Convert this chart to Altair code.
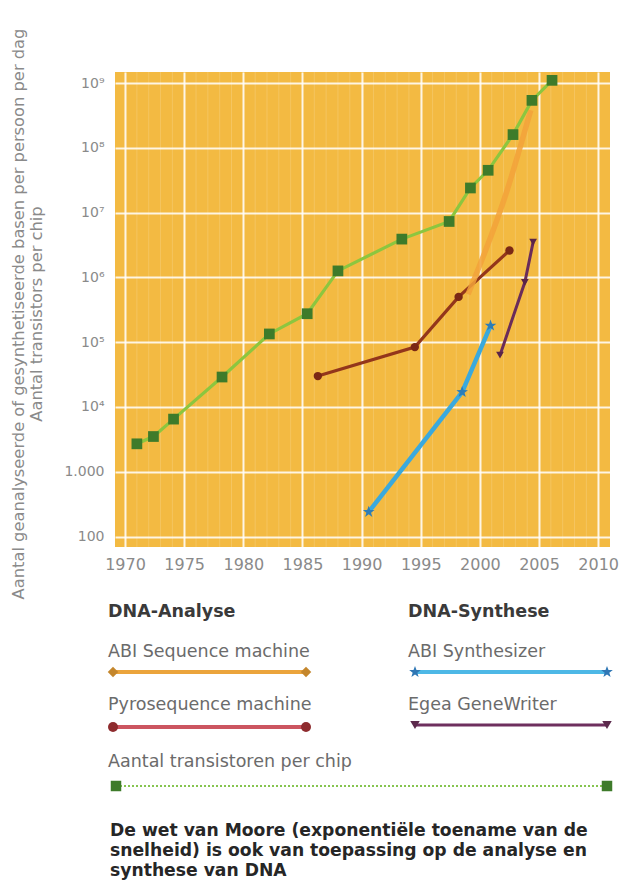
import altair as alt
import pandas as pd

# ---------------- data ----------------
x_ticks = [1970, 1975, 1980, 1985, 1990, 1995, 2000, 2005, 2010]
y_ticks = [100, 1000, 1e4, 1e5, 1e6, 1e7, 1e8, 1e9]
y_tick_labels = ["100", "1.000", "10⁴", "10⁵", "10⁶", "10⁷", "10⁸", "10⁹"]

transistor_years = [1971.0, 1972.4, 1974.1, 1978.2, 1982.2, 1985.4, 1988.0,
                    1993.4, 1997.4, 1999.2, 2000.7, 2002.8, 2004.4, 2006.1]
transistor_vals = [2700, 3500, 6500, 29000, 134000, 275000, 1.26e6,
                   3.9e6, 7.3e6, 2.4e7, 4.5e7, 1.6e8, 5.4e8, 1.1e9]

abi_seq_years = [1999.0, 2002.3, 2004.3]
abi_seq_vals = [5.5e5, 2.2e7, 3.8e8]

pyro_years = [1986.3, 1994.5, 1998.2, 2002.5]
pyro_vals = [3.0e4, 8.4e4, 5.0e5, 2.6e6]

abi_syn_years = [1990.6, 1998.5, 2000.9]
abi_syn_vals = [240, 1.7e4, 1.8e5]

egea_years = [2001.7, 2003.8, 2004.5]
egea_vals = [6.3e4, 8.4e5, 3.5e6]

series_names = ["ABI Sequence machine", "Pyrosequence machine",
                "Aantal transistoren per chip", "ABI Synthesizer", "Egea GeneWriter"]

y_title = ["Aantal geanalyseerde of gesynthetiseerde basen per persoon per dag",
           "Aantal transistors per chip"]
heading_left = "DNA-Analyse"
heading_right = "DNA-Synthese"
caption = ("De wet van Moore (exponentiële toename van de\n"
           "snelheid) is ook van toepassing op de analyse en\n"
           "synthese van DNA")

# ---------------- tables ----------------
def table(name, xs, ys):
    return pd.DataFrame({"jaar": xs, "waarde": ys, "serie": name})

df = pd.concat([
    table(series_names[0], abi_seq_years, abi_seq_vals),
    table(series_names[1], pyro_years, pyro_vals),
    table(series_names[2], transistor_years, transistor_vals),
    table(series_names[3], abi_syn_years, abi_syn_vals),
    table(series_names[4], egea_years, egea_vals),
], ignore_index=True)

STAR = ("M0,-1L0.24,-0.33L0.95,-0.31L0.38,0.12L0.59,0.81L0,0.4L-0.59,0.81"
        "L-0.38,0.12L-0.95,-0.31L-0.24,-0.33Z")

FONT = "DejaVu Sans"
W, H = 495, 475

label_expr = "[" + ",".join("'%s'" % s for s in y_tick_labels) + "][round(log(datum.value)/LN10)-2]"

X = alt.X("jaar:Q",
          scale=alt.Scale(domain=[1969.15, 2011], nice=False, zero=False),
          axis=alt.Axis(values=x_ticks, format="d", title=None, labelPadding=9,
                        labelFontSize=16, grid=True))
Y = alt.Y("waarde:Q",
          scale=alt.Scale(type="log", domain=[69, 1.48e9], nice=False),
          axis=alt.Axis(values=y_ticks, labelExpr=label_expr, labelPadding=11,
                        labelFontSize=14,
                        title=y_title, titleX=-105, titleY=H / 2 + 4, titleAngle=270,
                        titleAlign="center", titleBaseline="top",
                        titleLineHeight=18, titleFontSize=16.3,
                        titleColor="#8a8a8a", titleFontWeight="normal",
                        grid=True))

base = alt.Chart(df)

# faint yearly texture lines
years_minor = pd.DataFrame({"jaar": list(range(1970, 2011))})
minor = alt.Chart(years_minor).mark_rule(color="white", opacity=0.16, strokeWidth=1).encode(x=X)

def line_layer(name, color, width, opacity=1.0, interp="linear"):
    return base.transform_filter(alt.datum.serie == name).mark_line(
        color=color, strokeWidth=width, opacity=opacity, interpolate=interp
    ).encode(x=X, y=Y)

def point_layer(name, shape, color, size):
    return base.transform_filter(alt.datum.serie == name).mark_point(
        shape=shape, filled=True, fill=color, color=color, size=size, opacity=1
    ).encode(x=X, y=Y)

layers = [
    minor,
    line_layer(series_names[1], "#93361B", 3.2),
    point_layer(series_names[1], "circle", "#7A2815", 70),
    line_layer(series_names[0], "#F2A23A", 5.5, 0.85, "monotone"),
    line_layer(series_names[3], "#3AA9DD", 4.5),
    point_layer(series_names[3], STAR, "#2C7DB8", 150),
    line_layer(series_names[4], "#6A2C5A", 3),
    point_layer(series_names[4], "triangle-down", "#5A2448", 60),
    line_layer(series_names[2], "#8CC63F", 3.2),
    point_layer(series_names[2], "square", "#3E7B2A", 115),
]

# ---------------- hand-drawn legend below the plot ----------------
one = pd.DataFrame({"t": [""]})

def text_at(txt, x, y, size=17.5, color="#6b6b6b", weight="normal", line_h=None):
    kw = dict(align="left", baseline="middle", font=FONT, fontSize=size,
              color=color, fontWeight=weight)
    if line_h:
        kw["lineBreak"] = "\n"
        kw["lineHeight"] = line_h
        kw["baseline"] = "top"
    return alt.Chart(pd.DataFrame({"t": [txt]})).mark_text(**kw).encode(
        x=alt.value(x), y=alt.value(y), text="t:N")

def sample(x1, x2, y, color, width, shape, mcolor, msize, dash=None):
    kw = dict(color=color, strokeWidth=width)
    if dash:
        kw["strokeDash"] = dash
    out = [alt.Chart(one).mark_rule(**kw).encode(
        x=alt.value(x1), x2=alt.value(x2), y=alt.value(y))]
    for xx in (x1, x2):
        out.append(alt.Chart(one).mark_point(shape=shape, filled=True, fill=mcolor,
                                             color=mcolor, size=msize, opacity=1).encode(
            x=alt.value(xx), y=alt.value(y)))
    return out

LX, RX = -7, 293
legend = [
    text_at(heading_left, LX, 540, 17.5, "#3a3a3a", "bold"),
    text_at(heading_right, RX, 540, 17.5, "#3a3a3a", "bold"),
    text_at(series_names[0], LX, 580),
    text_at(series_names[1], LX, 633),
    text_at(series_names[2], LX, 690),
    text_at(series_names[3], RX, 580),
    text_at(series_names[4], RX, 633),
]
legend += sample(-2, 191, 600, "#EBA43C", 4, "diamond", "#C4862C", 110)
legend += sample(-2, 191, 655, "#CC5560", 4, "circle", "#8E2B2E", 100)
legend += sample(1, 492, 714, "#86C450", 2, "square", "#3E7B2A", 110, dash=[2, 2])
legend += sample(300, 492, 600, "#4DB8E6", 4, STAR, "#2F77B5", 150)
legend += sample(300, 492, 653, "#6E2F5E", 3, "triangle-down", "#5C2A4C", 90)
legend.append(text_at(caption, -5, 750, 17.2, "#262626", "bold", line_h=20))

chart = alt.layer(*layers, *legend).properties(
    width=W, height=H,
    autosize="none",
    padding={"left": 107, "top": 64, "right": 9, "bottom": 338},
).configure_view(
    fill="#F3BA42", strokeWidth=0
).configure_axis(
    domain=False, ticks=False,
    labelFont=FONT, labelColor="#8a8a8a",
    titleFont=FONT,
    gridColor="white", gridOpacity=0.85, gridWidth=2,
)

chart.save("out.html", embed_options={"renderer": "svg", "actions": False})
